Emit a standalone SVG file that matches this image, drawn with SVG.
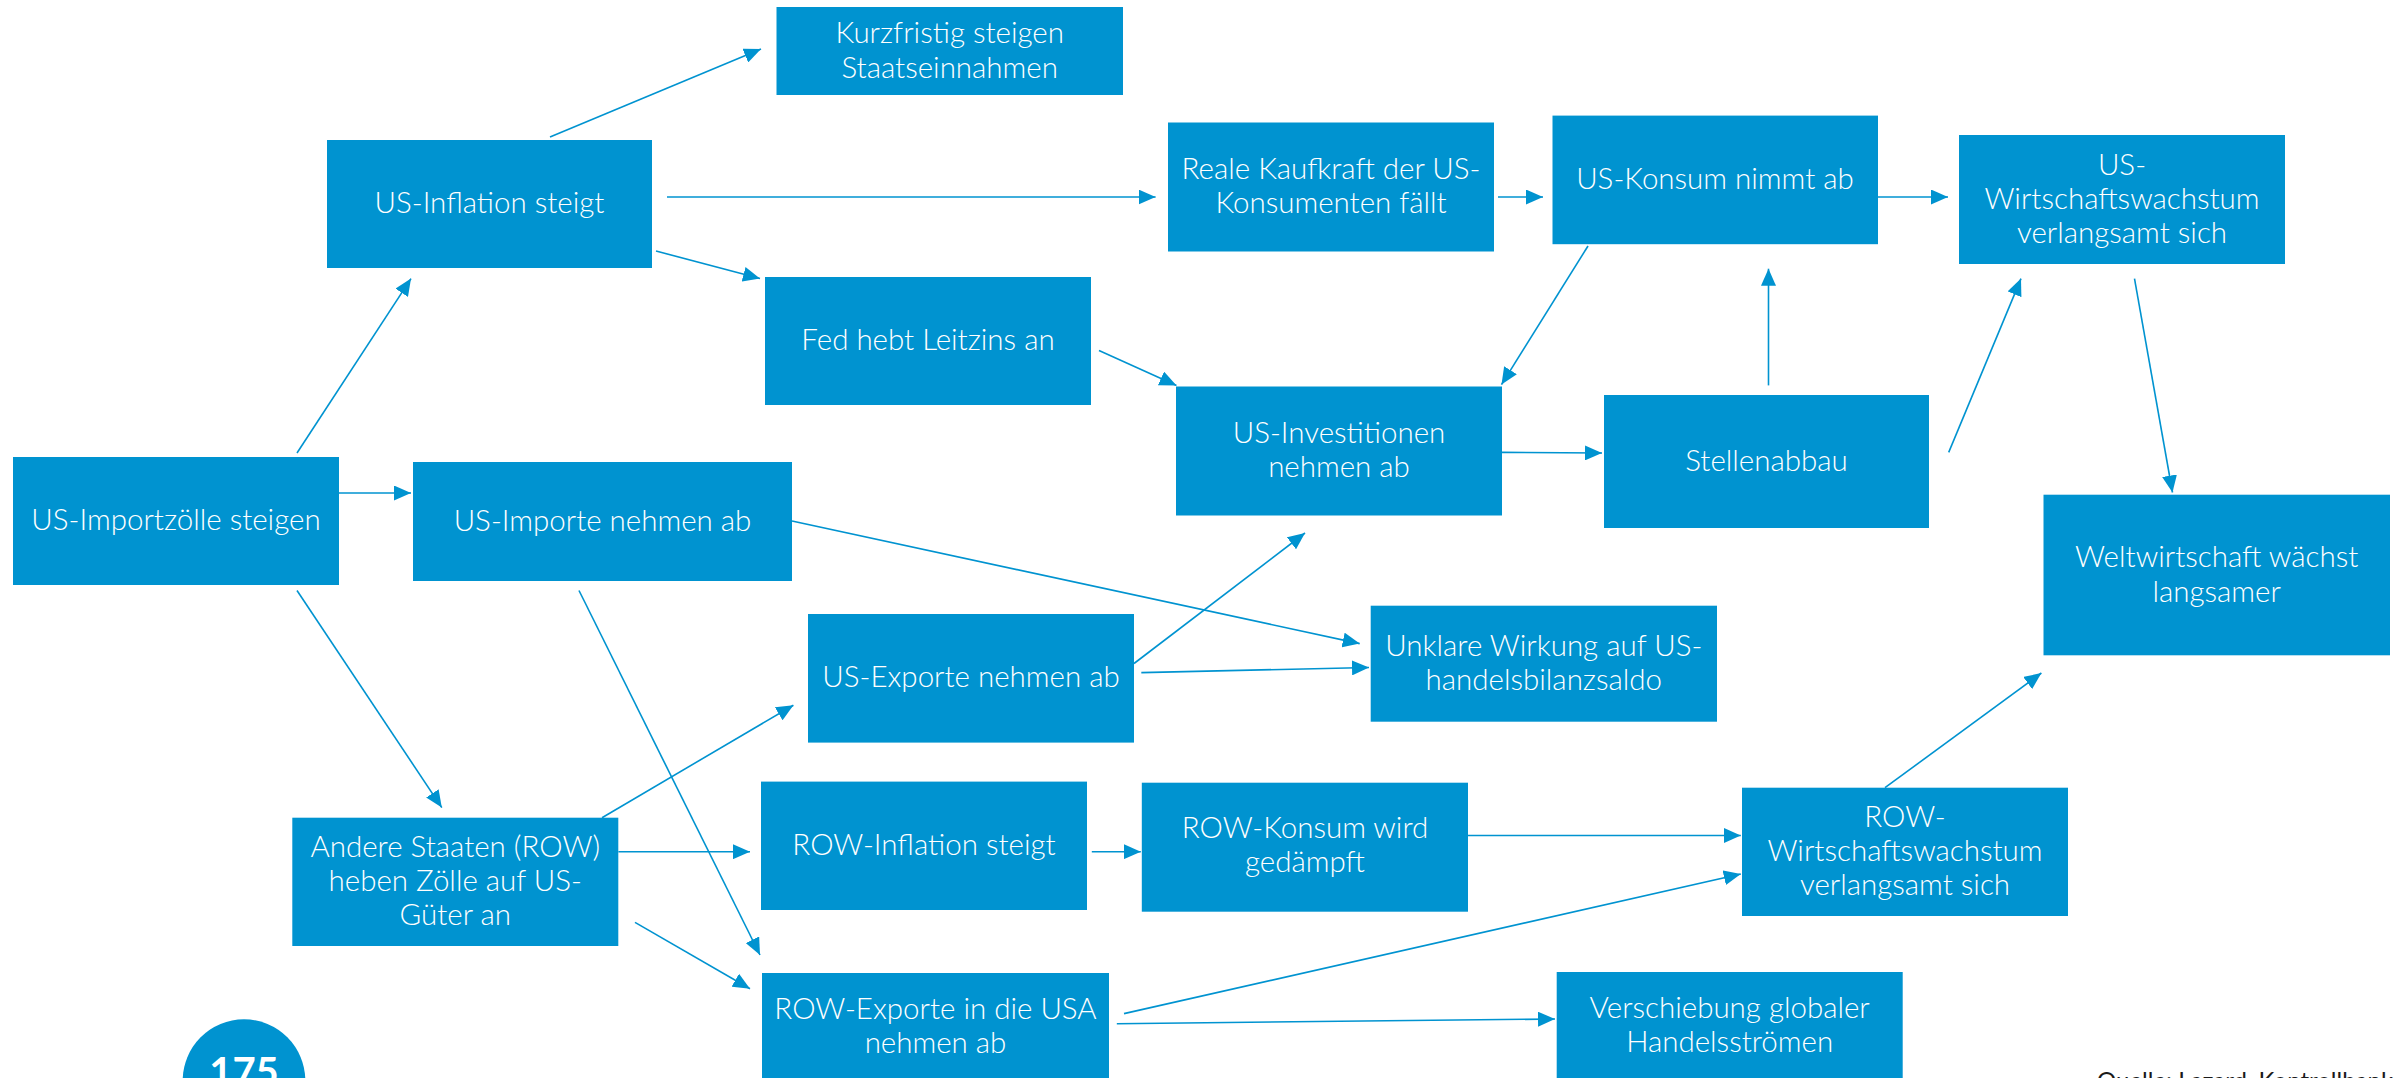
<svg xmlns="http://www.w3.org/2000/svg" width="2403" height="1078" viewBox="0 0 2403 1078">
<style>
.box{fill:#0093d0;}
.t{font-family:Lato,"Open Sans","Liberation Sans",sans-serif;font-size:29.5px;font-weight:300;fill:#ffffff;text-anchor:middle;}
.c{stroke:#0093d0;stroke-width:1.6;fill:none;marker-end:url(#ah);}
</style>
<defs>
<marker id="ah" markerUnits="userSpaceOnUse" markerWidth="17" markerHeight="15" refX="17" refY="7.5" orient="auto">
<path d="M0,0 L17,7.5 L0,15 z" fill="#0093d0"/>
</marker>
</defs>
<rect width="2403" height="1078" fill="#ffffff"/>

<g id="connectors">
<line class="c" x1="297" y1="453" x2="411" y2="278.6"/>
<line class="c" x1="550" y1="137" x2="761" y2="49"/>
<line class="c" x1="667" y1="197" x2="1155.6" y2="197"/>
<line class="c" x1="656" y1="251" x2="760" y2="278.6"/>
<line class="c" x1="339" y1="493" x2="411" y2="493"/>
<line class="c" x1="297" y1="590.5" x2="441.8" y2="807.6"/>
<line class="c" x1="579" y1="590.5" x2="760" y2="955"/>
<line class="c" x1="792" y1="521" x2="1359.7" y2="643.6"/>
<line class="c" x1="1099" y1="350.6" x2="1176.5" y2="385.4"/>
<line class="c" x1="1498" y1="197" x2="1543" y2="197"/>
<line class="c" x1="1588" y1="246" x2="1501.5" y2="384.6"/>
<line class="c" x1="1878" y1="197" x2="1948" y2="197"/>
<line class="c" x1="1502" y1="452.4" x2="1602" y2="453"/>
<line class="c" x1="1768.5" y1="385.4" x2="1768.5" y2="268.7"/>
<line class="c" x1="1948.7" y1="452.4" x2="2021" y2="278.6"/>
<line class="c" x1="2134.5" y1="278.6" x2="2172.5" y2="492.5"/>
<line class="c" x1="1134" y1="663.5" x2="1305" y2="533"/>
<line class="c" x1="1141.3" y1="672.6" x2="1369" y2="667.5"/>
<line class="c" x1="602" y1="817.7" x2="793.4" y2="705.2"/>
<line class="c" x1="618.4" y1="851.7" x2="750" y2="851.7"/>
<line class="c" x1="635" y1="922.4" x2="750" y2="988.7"/>
<line class="c" x1="1091.8" y1="851.7" x2="1140.8" y2="851.7"/>
<line class="c" x1="1468" y1="835.5" x2="1740.8" y2="835.5"/>
<line class="c" x1="1124" y1="1013.6" x2="1740.8" y2="874"/>
<line class="c" x1="1116.8" y1="1023.7" x2="1555" y2="1019"/>
<line class="c" x1="1885" y1="787.7" x2="2041.4" y2="673"/>
</g>

<g id="n_importzoelle"><rect class="box" x="13" y="457" width="326" height="128"/><text class="t" x="176" y="530">US-Importzölle steigen</text></g>
<g id="n_inflation"><rect class="box" x="327" y="140" width="325" height="128"/><text class="t" x="489.5" y="213">US-Inflation steigt</text></g>
<g id="n_kurzfristig"><rect class="box" x="776.5" y="7" width="346.5" height="88"/><text class="t" x="949.7" y="43">Kurzfristig steigen</text><text class="t" x="949.7" y="77.5">Staatseinnahmen</text></g>
<g id="n_fed"><rect class="box" x="765" y="277" width="326" height="128"/><text class="t" x="928" y="350">Fed hebt Leitzins an</text></g>
<g id="n_reale"><rect class="box" x="1168" y="122.5" width="326" height="129"/><text class="t" x="1331" y="179">Reale Kaufkraft der US-</text><text class="t" x="1331" y="213">Konsumenten fällt</text></g>
<g id="n_konsum"><rect class="box" x="1552.5" y="115.6" width="325.5" height="128.6"/><text class="t" x="1715" y="189">US-Konsum nimmt ab</text></g>
<g id="n_uswirt"><rect class="box" x="1959" y="135" width="326" height="129"/><text class="t" x="2122" y="174.5">US-</text><text class="t" x="2122" y="208.5">Wirtschaftswachstum</text><text class="t" x="2122" y="242.5">verlangsamt sich</text></g>
<g id="n_invest"><rect class="box" x="1176" y="386.5" width="326" height="129"/><text class="t" x="1339" y="443">US-Investitionen</text><text class="t" x="1339" y="477">nehmen ab</text></g>
<g id="n_stellen"><rect class="box" x="1604" y="395" width="325" height="133"/><text class="t" x="1766.5" y="470.5">Stellenabbau</text></g>
<g id="n_welt"><rect class="box" x="2043.5" y="494.7" width="346.5" height="160.6"/><text class="t" x="2216.7" y="567.3">Weltwirtschaft wächst</text><text class="t" x="2216.7" y="601.7">langsamer</text></g>
<g id="n_importe"><rect class="box" x="413" y="462" width="379" height="119"/><text class="t" x="602.5" y="531">US-Importe nehmen ab</text></g>
<g id="n_usexporte"><rect class="box" x="808" y="614" width="326" height="128.6"/><text class="t" x="971" y="687">US-Exporte nehmen ab</text></g>
<g id="n_unklare"><rect class="box" x="1370.7" y="605.7" width="346.3" height="116"/><text class="t" x="1543.8" y="655.5">Unklare Wirkung auf US-</text><text class="t" x="1543.8" y="689.7">handelsbilanzsaldo</text></g>
<g id="n_andere"><rect class="box" x="292.3" y="817.7" width="326" height="128.3"/><text class="t" x="455.3" y="857">Andere Staaten (ROW)</text><text class="t" x="455.3" y="891">heben Zölle auf US-</text><text class="t" x="455.3" y="925">Güter an</text></g>
<g id="n_rowinfl"><rect class="box" x="761" y="781.6" width="326" height="128.4"/><text class="t" x="924" y="854.8">ROW-Inflation steigt</text></g>
<g id="n_rowkonsum"><rect class="box" x="1141.8" y="782.7" width="326.2" height="129"/><text class="t" x="1305" y="838">ROW-Konsum wird</text><text class="t" x="1305" y="872">gedämpft</text></g>
<g id="n_rowwirt"><rect class="box" x="1742" y="787.7" width="326" height="128.3"/><text class="t" x="1905" y="826.8">ROW-</text><text class="t" x="1905" y="860.8">Wirtschaftswachstum</text><text class="t" x="1905" y="894.8">verlangsamt sich</text></g>
<g id="n_rowexporte"><rect class="box" x="762" y="973" width="347" height="110"/><text class="t" x="935.5" y="1019">ROW-Exporte in die USA</text><text class="t" x="935.5" y="1053">nehmen ab</text></g>
<g id="n_verschiebung"><rect class="box" x="1556.7" y="972" width="346" height="110"/><text class="t" x="1729.7" y="1018">Verschiebung globaler</text><text class="t" x="1729.7" y="1052">Handelsströmen</text></g>

<g id="pagenum"><circle cx="244" cy="1080.6" r="61.3" fill="#0093d0"/><text x="244" y="1086" font-family="Lato,'Liberation Sans',sans-serif" font-size="40" font-weight="bold" fill="#ffffff" text-anchor="middle">175</text></g>
<text x="2097" y="1089" font-family="Lato,'Liberation Sans',sans-serif" font-size="24" fill="#1a1a1a">Quelle: Lazard, Kontrollbank</text>
</svg>
